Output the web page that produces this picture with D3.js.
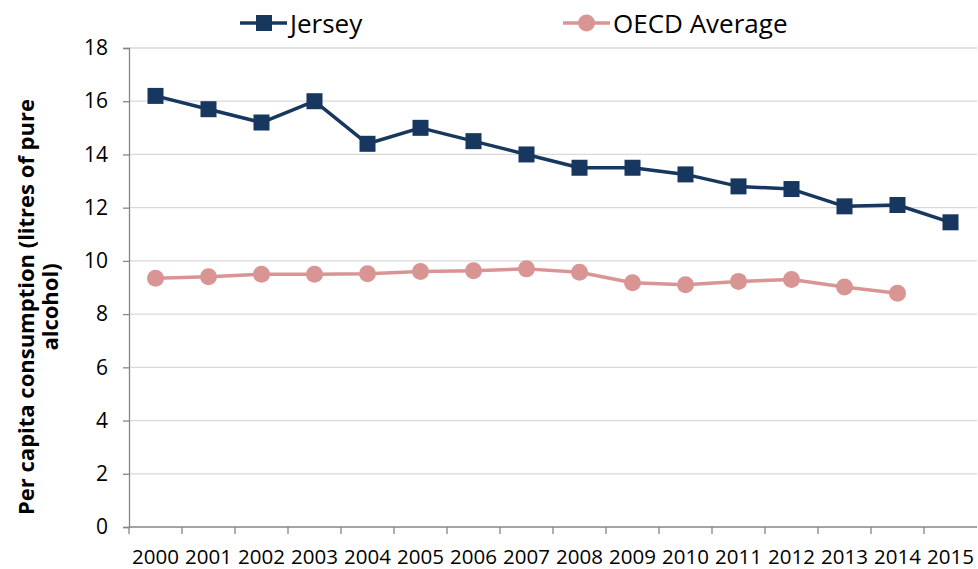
<!DOCTYPE html>
<html>
<head>
<meta charset="utf-8">
<script src="https://cdn.jsdelivr.net/npm/d3@7"></script>
<style>
  body { margin: 0; background: #fff; }
  svg { display: block; font-family: "Open Sans", sans-serif; }
</style>
</head>
<body>
<div id="chart"></div>
<script>
// Data
const years = ['2000','2001','2002','2003','2004','2005','2006','2007','2008','2009','2010','2011','2012','2013','2014','2015'];
const jersey = [16.2, 15.7, 15.2, 16.0, 14.4, 15.0, 14.5, 14.0, 13.5, 13.5, 13.25, 12.8, 12.7, 12.05, 12.1, 11.45];
const oecd = [9.35, 9.4, 9.5, 9.5, 9.52, 9.6, 9.63, 9.7, 9.57, 9.18, 9.1, 9.23, 9.3, 9.02, 8.78, null];
const yTicks = [0, 2, 4, 6, 8, 10, 12, 14, 16, 18];

const width = 978, height = 569;
const margin = {top: 48, right: 1, bottom: 42, left: 129};

const svg = d3.select('#chart').append('svg')
    .attr('width', width)
    .attr('height', height);

const x = d3.scaleBand()
    .domain(years)
    .range([margin.left, width - margin.right]);

const y = d3.scaleLinear()
    .domain([0, 18])
    .range([height - margin.bottom, margin.top]);

// gridlines
svg.append('g')
    .selectAll('line')
    .data(yTicks.filter(d => d > 0))
    .enter().append('line')
    .attr('x1', margin.left)
    .attr('x2', width - margin.right)
    .attr('y1', d => y(d))
    .attr('y2', d => y(d))
    .attr('stroke', '#d9d9d9')
    .attr('stroke-width', 1.3);

// y axis
const yAxis = svg.append('g')
    .attr('transform', `translate(${margin.left},0)`)
    .call(d3.axisLeft(y).tickValues(yTicks).tickSize(6).tickPadding(15));
yAxis.select('.domain').attr('stroke', '#868686').attr('stroke-width', 1.3);
yAxis.selectAll('.tick line').attr('stroke', '#868686').attr('stroke-width', 1.3);
yAxis.selectAll('.tick text')
    .attr('font-family', '"Open Sans", sans-serif')
    .attr('font-size', 21)
    .attr('fill', '#000');

// x axis (ticks between categories, like the original)
const xAxisG = svg.append('g')
    .attr('transform', `translate(0,${y(0)})`);
xAxisG.append('line')
    .attr('x1', margin.left)
    .attr('x2', width - margin.right)
    .attr('stroke', '#868686')
    .attr('stroke-width', 1.3);
xAxisG.selectAll('.xtick')
    .data(years)
    .enter().append('line')
    .attr('class', 'xtick')
    .attr('x1', d => x(d))
    .attr('x2', d => x(d))
    .attr('y1', 0)
    .attr('y2', 7)
    .attr('stroke', '#868686')
    .attr('stroke-width', 1.3);
xAxisG.selectAll('.xlabel')
    .data(years)
    .enter().append('text')
    .attr('class', 'xlabel')
    .attr('x', d => x(d) + x.bandwidth() / 2)
    .attr('y', 37)
    .attr('text-anchor', 'middle')
    .attr('font-size', 20.5)
    .attr('fill', '#000')
    .text(d => d);

// y axis title
const title = svg.append('text')
    .attr('transform', 'translate(0,307) rotate(-90)')
    .attr('text-anchor', 'middle')
    .attr('font-weight', 'bold')
    .attr('font-size', 22)
    .attr('fill', '#000');
title.append('tspan').attr('x', 0).attr('y', 34).text('Per capita consumption (litres of pure');
title.append('tspan').attr('x', 0).attr('y', 58).text('alcohol)');

const cx = d => x(d) + x.bandwidth() / 2;

// series
const series = [
  {name: 'Jersey', values: jersey, color: '#17375e', shape: 'square'},
  {name: 'OECD Average', values: oecd, color: '#d99594', shape: 'circle'}
];

series.forEach(s => {
  const pts = years.map((yr, i) => ({yr: yr, v: s.values[i]})).filter(d => d.v != null);
  const line = d3.line()
      .x(d => cx(d.yr))
      .y(d => y(d.v));
  svg.append('path')
      .datum(pts)
      .attr('d', line)
      .attr('fill', 'none')
      .attr('stroke', s.color)
      .attr('stroke-width', 3.5)
      .attr('stroke-linejoin', 'round');

  if (s.shape === 'square') {
    svg.append('g').selectAll('rect')
        .data(pts)
        .enter().append('rect')
        .attr('x', d => cx(d.yr) - 8)
        .attr('y', d => y(d.v) - 8)
        .attr('width', 16)
        .attr('height', 16)
        .attr('fill', s.color);
  } else {
    svg.append('g').selectAll('circle')
        .data(pts)
        .enter().append('circle')
        .attr('cx', d => cx(d.yr))
        .attr('cy', d => y(d.v))
        .attr('r', 8.5)
        .attr('fill', s.color);
  }
});

// legend
const legendItems = [
  {name: 'Jersey', color: '#17375e', shape: 'square', x: 240},
  {name: 'OECD Average', color: '#d99594', shape: 'circle', x: 563}
];
const legend = svg.append('g').attr('class', 'legend');
legendItems.forEach(l => {
  const g = legend.append('g').attr('transform', `translate(${l.x},23)`);
  g.append('line')
      .attr('x1', 0).attr('x2', 47)
      .attr('stroke', l.color)
      .attr('stroke-width', 3.5);
  if (l.shape === 'square') {
    g.append('rect').attr('x', 16).attr('y', -8).attr('width', 16).attr('height', 16).attr('fill', l.color);
  } else {
    g.append('circle').attr('cx', 23.5).attr('r', 8.5).attr('fill', l.color);
  }
  g.append('text')
      .attr('x', 50)
      .attr('y', 10)
      .attr('font-size', 26)
      .attr('fill', '#000')
      .text(l.name);
});
</script>
</body>
</html>
